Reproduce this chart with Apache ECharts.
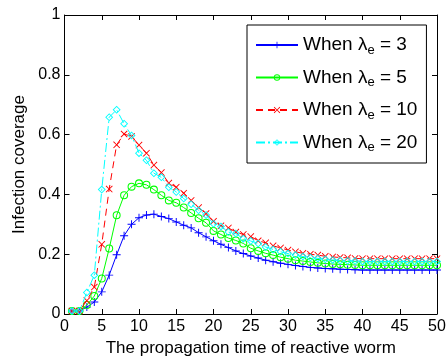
<!DOCTYPE html>
<html><head><meta charset="utf-8">
<script src="https://cdn.jsdelivr.net/npm/echarts@6/dist/echarts.min.js"></script>
<style>html,body{margin:0;padding:0;background:#fff}#c{width:446px;height:358px}</style>
</head><body><div id="c"></div>
<script>
const times = [1,2,3,4,5,6,7,8,9,10,11,12,13,14,15,16,17,18,19,20,21,22,23,24,25,26,27,28,29,30,31,32,33,34,35,36,37,38,39,40,41,42,43,44,45,46,47,48,49,50];
const lambda3 = [0.01,0.01,0.023,0.04,0.074,0.13,0.198,0.262,0.30,0.322,0.331,0.334,0.326,0.319,0.308,0.297,0.288,0.272,0.258,0.245,0.233,0.222,0.211,0.202,0.194,0.187,0.18,0.175,0.17,0.166,0.162,0.159,0.156,0.154,0.152,0.151,0.15,0.149,0.148,0.147,0.147,0.147,0.147,0.147,0.147,0.147,0.147,0.147,0.147,0.147];
const lambda5 = [0.01,0.01,0.03,0.06,0.119,0.219,0.33,0.397,0.426,0.437,0.432,0.416,0.397,0.38,0.372,0.356,0.338,0.32,0.305,0.278,0.266,0.254,0.246,0.236,0.22,0.211,0.203,0.197,0.19,0.185,0.18,0.177,0.174,0.171,0.169,0.167,0.166,0.165,0.164,0.163,0.163,0.163,0.163,0.163,0.163,0.163,0.163,0.163,0.163,0.163];
const lambda10 = [0.01,0.01,0.045,0.09,0.233,0.418,0.566,0.602,0.594,0.565,0.538,0.498,0.473,0.438,0.424,0.404,0.38,0.356,0.336,0.31,0.295,0.288,0.274,0.266,0.259,0.245,0.238,0.228,0.221,0.214,0.208,0.203,0.2,0.197,0.193,0.191,0.189,0.188,0.186,0.185,0.185,0.185,0.185,0.185,0.185,0.185,0.185,0.185,0.185,0.185];
const lambda20 = [0.01,0.01,0.072,0.13,0.416,0.658,0.683,0.636,0.597,0.538,0.514,0.471,0.457,0.424,0.408,0.386,0.367,0.347,0.331,0.302,0.293,0.274,0.269,0.252,0.244,0.236,0.224,0.216,0.208,0.202,0.197,0.192,0.189,0.186,0.183,0.181,0.179,0.178,0.177,0.176,0.176,0.176,0.176,0.176,0.176,0.176,0.176,0.176,0.176,0.176];
const seriesNames = ['When λ{sub|e} = 3','When λ{sub|e} = 5','When λ{sub|e} = 10','When λ{sub|e} = 20'];
const xTitle = 'The propagation time of reactive worm';
const yTitle = 'Infection coverage';

const FONT = '"Liberation Sans", Arial, sans-serif';
const plusPath = 'path://M4.4,0 L5.6,0 L5.6,4.4 L10,4.4 L10,5.6 L5.6,5.6 L5.6,10 L4.4,10 L4.4,5.6 L0,5.6 L0,4.4 L4.4,4.4 Z';
const crossPath = 'path://M0,0.9 L0.9,0 L5,4.1 L9.1,0 L10,0.9 L5.9,5 L10,9.1 L9.1,10 L5,5.9 L0.9,10 L0,9.1 L4.1,5 Z';
const ringPath = 'path://M5,0 A5,5 0 1 1 5,10 A5,5 0 1 1 5,0 Z M5,1.3 A3.7,3.7 0 1 0 5,8.7 A3.7,3.7 0 1 0 5,1.3 Z';
const diamondPath = 'path://M5,0 L10,5 L5,10 L0,5 Z M5,1.6 L1.6,5 L5,8.4 L8.4,5 Z';

function pairs(vals){ return times.map((t,i)=>[t, vals[i]]); }

const chart = echarts.init(document.getElementById('c'), null, {renderer:'canvas'});
const axisCommon = {
  axisLine:{show:true, onZero:false, lineStyle:{color:'#000', width:1}},
  axisTick:{show:true, inside:true, length:5, lineStyle:{color:'#000'}},
  splitLine:{show:false}
};
chart.setOption({
  animation:false,
  backgroundColor:'#fff',
  textStyle:{fontFamily:FONT},
  grid:{left:64.5, right:9, top:15, bottom:44, containLabel:false, outerBoundsMode:'none'},
  xAxis:[
    Object.assign({type:'value', min:0, max:50, interval:5, position:'bottom',
      name:xTitle, nameLocation:'middle', nameGap:24,
      nameTextStyle:{fontFamily:FONT, fontSize:17, color:'#000'},
      axisLabel:{fontFamily:FONT, fontSize:16, color:'#000', margin:5}}, axisCommon),
    Object.assign({type:'value', min:0, max:50, interval:5, position:'top',
      axisLabel:{show:false}}, axisCommon)
  ],
  yAxis:[
    Object.assign({type:'value', min:0, max:1, interval:0.2, position:'left',
      name:yTitle, nameLocation:'middle', nameGap:36,
      nameTextStyle:{fontFamily:FONT, fontSize:17, color:'#000'},
      axisLabel:{fontFamily:FONT, fontSize:16, color:'#000', margin:4,
        formatter:v=>String(Math.round(v*10)/10)}}, axisCommon),
    Object.assign({type:'value', min:0, max:1, interval:0.2, position:'right',
      axisLabel:{show:false}}, axisCommon)
  ],
  legend:{
    orient:'vertical', left:247, top:25,
    backgroundColor:'#fff', borderColor:'#000', borderWidth:1,
    padding:[9,9,9,8], itemGap:10, itemWidth:42, itemHeight:8,
    textStyle:{fontFamily:FONT, fontSize:19, color:'#000', lineHeight:22,
      rich:{sub:{fontFamily:FONT, fontSize:13, color:'#000', padding:[10,0,0,0]}}},
    data:seriesNames
  },
  series:[
    {name:seriesNames[0], type:'line', data:pairs(lambda3), symbol:plusPath, symbolSize:8, showAllSymbol:true,
      lineStyle:{color:'#0000ff', width:1}, itemStyle:{color:'#0000ff', borderWidth:0}, z:2},
    {name:seriesNames[1], type:'line', data:pairs(lambda5), symbol:ringPath, symbolSize:8, showAllSymbol:true,
      lineStyle:{color:'#00ff00', width:1}, itemStyle:{color:'#00ff00', borderWidth:0}, z:3},
    {name:seriesNames[2], type:'line', data:pairs(lambda10), symbol:crossPath, symbolSize:7, showAllSymbol:true,
      lineStyle:{color:'#ff0000', width:1, type:[7,5]}, itemStyle:{color:'#ff0000', borderWidth:0}, z:4},
    {name:seriesNames[3], type:'line', data:pairs(lambda20), symbol:diamondPath, symbolSize:8, showAllSymbol:true,
      lineStyle:{color:'#00ffff', width:1, type:[9,3,2,3]}, itemStyle:{color:'#00ffff', borderWidth:0}, z:5}
  ]
});
</script></body></html>
